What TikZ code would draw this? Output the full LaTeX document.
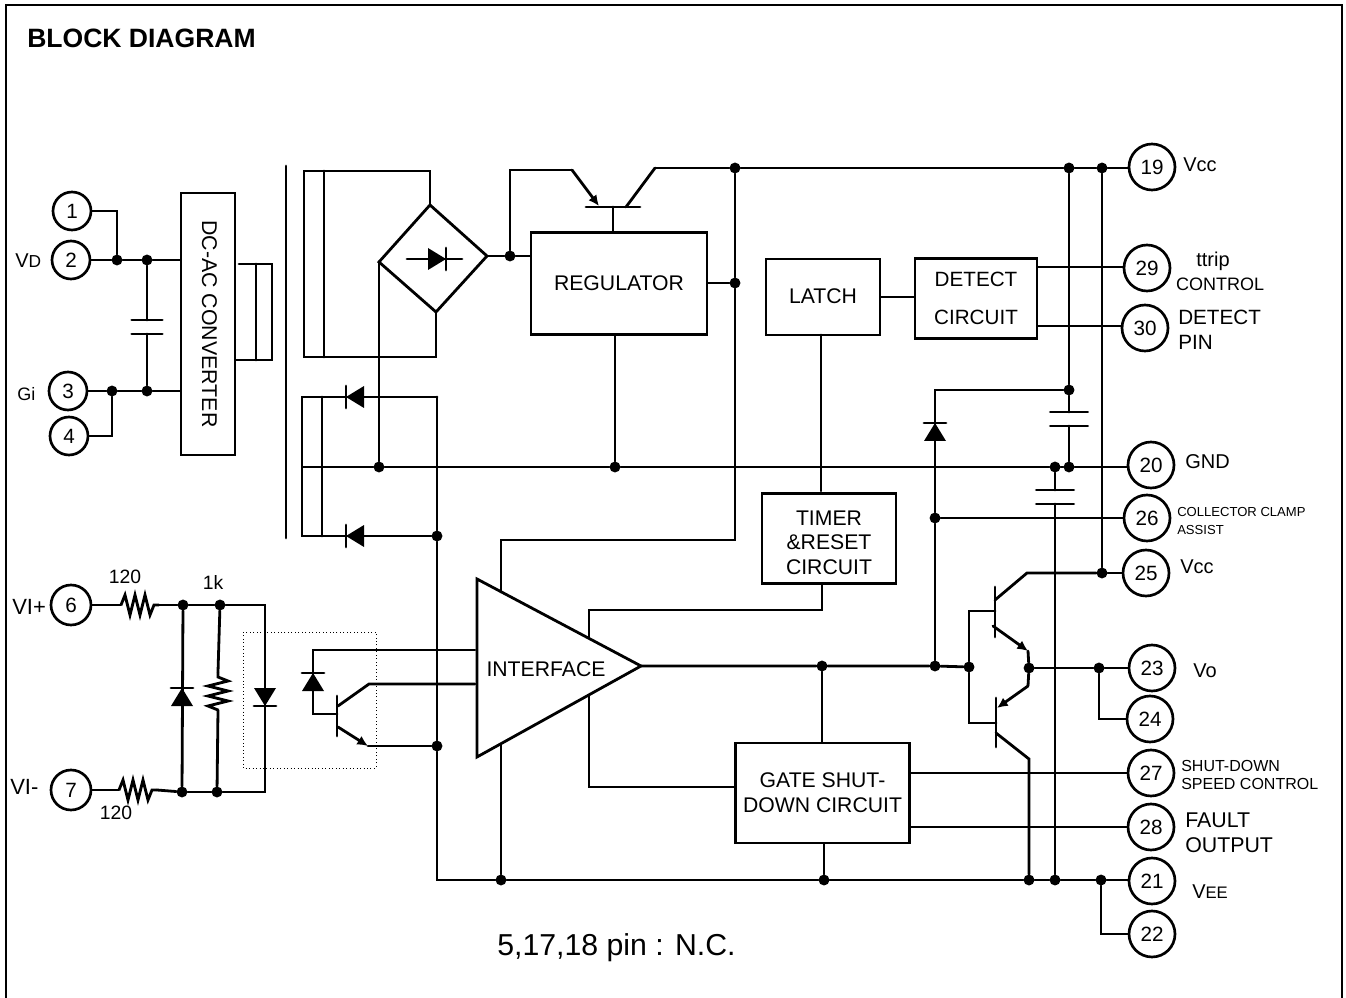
\documentclass[tikz,border=0pt]{standalone}
\usepackage{fontspec}
\setmainfont{Liberation Sans}
\usetikzlibrary{arrows.meta}
\tikzset{
  wire/.style={line width=2.1pt,line cap=round},
  box/.style={draw,line width=2.1pt,inner sep=0pt,align=center,font=\fontsize{15.9}{18.5}\selectfont},
  pin/.style={draw,circle,line width=2pt,inner sep=0pt,font=\fontsize{15.5}{18}\selectfont},
  dot/.style={circle,fill,inner sep=0pt,minimum size=8.2pt},
  lbl/.style={inner sep=0pt,align=left,font=\fontsize{15}{18.5}\selectfont},
  tiny/.style={lbl,font=\fontsize{9.8}{13}\selectfont},
  tail/.style={wire,-{Latex[length=8pt,width=7.5pt]}},
  diode/.pic={
    \fill (9,0) -- (-9,-11) -- (-9,11) -- cycle;
    \draw[wire] (9,-11) -- (9,11);
  },
  capa/.pic={
    \draw[wire] (-17,-7) -- (17,-7);
    \draw[wire] (-17,7) -- (17,7);
    \coordinate (-a) at (0,-7);
    \coordinate (-b) at (0,7);
  },
  resi/.pic={
    \draw[wire,line cap=butt] (-19,0) -- (-15,-10) -- (-10,10) -- (-5,-10) -- (0,10) -- (5,-10) -- (10,10) -- (14,0) -- (19,0);
    \coordinate (-a) at (-19,0);
    \coordinate (-b) at (19,0);
  }
}
\begin{document}
\begin{tikzpicture}[x=.75pt,y=-.75pt]
  \useasboundingbox (0,0) rectangle (1346,998);
  %outer frame
  \draw[line width=1.5pt] (6,999) -- (6,5) -- (1342,5) -- (1342,999);
  \node[lbl,anchor=west,font=\fontsize{19.9}{24}\selectfont\bfseries] (title) at (27,38) {BLOCK DIAGRAM};
  \node[lbl,anchor=west,font=\fontsize{22.7}{28}\selectfont] (note) at (497,948) {5,17,18 pin : N.C.};

  %pins
  \foreach \n/\x/\y/\s in {1/72/211/28.5,2/71/260/28.5,3/68/391/28.5,4/69/436/28.5,6/71/605/30,7/71/790/30,
    19/1152/167/34.5,29/1147/268/34.5,30/1145/328/34.5,20/1151/465/34.5,26/1147/518/34.5,25/1146/573/34.5,
    23/1152/668/34.5,24/1150/719/34.5,27/1151/773/34.5,28/1151/827/34.5,21/1152/881/34.5,22/1152/934/34.5}
    \node[pin,minimum size=\s pt] (pin\n) at (\x,\y) {\n};

  %junctions
  \foreach \n/\x/\y in {1/117/260,2/147/260,3/147/391,4/112/391,
    5/510/256,6/735/168,7/735/283,8/1069/168,9/1102/168,
    10/379/467,11/615/467,12/1055/467,13/1069/467,14/1069/390,
    15/437/536,16/437/746,17/935/518,18/935/666,19/969/667,20/1029/668,21/1099/668,22/1102/573,23/822/666,
    24/183/605,25/220/605,26/182/792,27/217/792,
    28/501/880,29/824/880,30/1029/880,31/1055/880,32/1101/880}
    \node[dot] (j\n) at (\x,\y) {};

  %blocks
  \node[box,rotate=-90,minimum width=196.5pt,minimum height=40.5pt,font=\fontsize{16}{18}\selectfont] (conv) at (208,324) {\raisebox{2.2pt}{DC-AC CONVERTER}};
  \node[box,minimum width=132pt,minimum height=77pt] (reg) at (619,283.5) {REGULATOR};
  \node[box,minimum width=85.5pt,minimum height=57pt] (latch) at (823,297) {\raisebox{1.5pt}{LATCH}};
  \node[box,minimum width=91.5pt,minimum height=59.5pt,font=\fontsize{15.5}{28}\selectfont] (det) at (976,298.5) {DETECT\\CIRCUIT};
  \node[box,minimum width=100.5pt,minimum height=68pt] (timer) at (829,538.5) {};
  \node[lbl,align=center,font=\fontsize{15.9}{18.5}\selectfont] (timertxt) at (829,542.5) {TIMER\\\&RESET\\CIRCUIT};
  \node[box,minimum width=131pt,minimum height=75pt] (gate) at (822.5,793) {GATE SHUT-\\DOWN CIRCUIT};

  %interface triangle
  \coordinate (tip) at (641,666);
  \draw[wire,line join=miter] (477,579) -- (tip) -- (477,757) -- cycle;
  \node[lbl,font=\fontsize{15.9}{18}\selectfont] (ifc) at (546,669) {INTERFACE};

  %input side
  \draw[wire] (pin1) -| (j1);
  \draw[wire] (pin2) -- (j1) -- (j2) -- (j2 -| conv.south);
  \draw[wire] (pin3) -- (j4) -- (j3) -- (j3 -| conv.south);
  \draw[wire] (pin4) -| (j4);
  \pic[xscale=.9] (capin) at (147,327) {capa};
  \draw[wire] (j2) -- (capin-a);
  \draw[wire] (capin-b) -- (j3);

  %transformer
  \coordinate (pri) at (239,264);
  \draw[wire] (pri) -| (272,360) -- (conv.north |- 0,360);
  \draw[wire] (256,264) -- (256,360);
  \draw[wire] (286,166) -- (286,538);

  %bridge
  \coordinate (brt) at (430,205);
  \coordinate (brr) at (487,256);
  \coordinate (brb) at (436,312);
  \coordinate (brl) at (379,262);
  \draw[wire,line join=miter] (brt) -- (brr) -- (brb) -- (brl) -- cycle;
  \draw[wire] (407,259) -- (462,259);
  \pic at (437,259) {diode};
  \draw[wire,line join=miter] (brt) |- (304,171) -- (304,357) -| (brb);
  \draw[wire] (324,171) -- (324,357);
  \draw[wire] (brl) -- (j10);

  %lower rectifiers
  \draw[wire,line join=miter] (437,397) -- (302,397) -- (302,536) -- (j15);
  \draw[wire] (322,397) -- (322,536);
  \pic[rotate=180] at (355,397) {diode};
  \pic[rotate=180] at (355,536) {diode};
  \draw[wire] (437,397) -- (j15) -- (j16);
  \draw[wire] (j16) -- (437,880) -- (j28);

  %ground rail and upper rail
  \draw[wire] (303,467) -- (j10) -- (j11) -- (j12) -- (j13) -- (pin20.west |- j13);
  \draw[wire] (j11) -- (reg.south -| j11);
  \coordinate (c1) at (655,168);
  \draw[wire] (c1) -- (j6) -- (j8) -- (j9) -- (pin19.west |- j9);
  \draw[wire] (j28) -- (j29) -- (j30) -- (j31) -- (j32) -- (pin21.west |- j32);
  \draw[wire,line join=miter] (j32) |- (pin22);

  %series transistor
  \draw[wire] (brr) -- (j5) -- (j5 -| reg.west);
  \coordinate (c2) at (572,170);
  \draw[wire,line join=miter] (j5) |- (c2);
  \draw[tail] (c2) -- (599,206);
  \draw[wire] (586,207) -- (640,207);
  \draw[wire] (613,207) -- (613,232);
  \draw[wire] (626,207) -- (c1);

  %regulator to interface
  \draw[wire] (j6) -- (j7);
  \draw[wire] (reg.east |- j7) -- (j7);
  \coordinate (c3) at (501,592);
  \draw[wire,line join=miter] (j7) |- (501,540) -- (c3);
  \coordinate (c4) at (501,744);
  \draw[wire] (c4) -- (j28);

  %latch and timer
  \draw[wire] (latch.east) -- (det.west |- latch.east);
  \draw[wire] (det.east |- 0,267) -- (pin29.west |- 0,267);
  \draw[wire] (det.east |- 0,326) -- (pin30.west |- 0,326);
  \draw[wire] (821,335) -- (821,491);
  \coordinate (c5) at (589,638);
  \draw[wire,line join=miter] (822,585) |- (589,610) -- (c5);
  \coordinate (c6) at (589,695);
  \draw[wire,line join=miter] (c6) |- (gate.west |- 0,787);

  %gate shut-down
  \draw[wire] (j23) -- (j23 |- gate.north);
  \draw[wire] (j29 |- gate.south) -- (j29);
  \draw[wire] (gate.east |- pin27) -- (pin27);
  \draw[wire] (gate.east |- pin28) -- (pin28);

  %output stage
  \draw[wire] (tip) -- (j23) -- (j18) -- (j19);
  \draw[wire] (j18) -- (j17);
  \draw[wire,line join=miter] (j17) -- (935,390) -- (j14);
  \pic[rotate=90] at (935,432) {diode};
  \draw[wire] (j17) -- (pin26);
  \draw[wire,line join=miter] (995,600) -- (1027,573) -- (j22);
  \draw[wire] (j22) -- (pin25);
  \draw[wire] (j9) -- (j22);
  \draw[wire] (995,587) -- (995,637);
  \draw[wire,line join=miter] (j19) |- (995,611);
  \draw[wire] (j19) |- (996,723);
  \draw[tail] (993,626) -- (1028,651);
  \draw[wire] (1028,651) -- (j20);
  \draw[wire] (j20) -- (1028,686);
  \draw[tail] (1028,686) -- (997,708);
  \draw[wire] (996,698) -- (996,747);
  \draw[wire,line join=miter] (996,733) -- (1029,759) -- (j30);
  \draw[wire] (j20) -- (j21) -- (pin23);
  \draw[wire,line join=miter] (j21) |- (pin24);

  %clamp capacitors
  \draw[wire] (j8) -- (j14);
  \pic[xscale=1.1] (capb) at (1069,419) {capa};
  \draw[wire] (j14) -- (capb-a);
  \draw[wire] (capb-b) -- (j13);
  \pic[xscale=1.1] (capc) at (1055,497) {capa};
  \draw[wire] (j12) -- (capc-a);
  \draw[wire] (capc-b) -- (j31);

  %opto input
  \pic (r1) at (140,605) {resi};
  \pic (r2) at (138,790) {resi};
  \pic[rotate=90] (r3) at (218,691) {resi};
  \draw[wire] (pin6) -- (r1-a);
  \draw[wire] (r1-b) -- (j24);
  \draw[wire] (pin7) -- (r2-a);
  \draw[wire] (r2-b) -- (j26);
  \draw[wire] (j24) -- (j25) -- (265,605) -- (265,792) -- (j27) -- (j26);
  \draw[wire] (j24) -- (j26);
  \draw[wire] (j25) -- (r3-b);
  \draw[wire] (r3-a) -- (j27);
  \pic[rotate=90] at (182,697) {diode};
  \pic[rotate=-90] at (265,697) {diode};
  \draw[line width=.6pt,dotted] (243,632) rectangle (376,768);

  %opto output
  \coordinate (c7) at (475,650);
  \draw[wire,line join=miter] (c7) -| (313,714) -- (337,714);
  \pic[rotate=90] at (313,682) {diode};
  \draw[wire] (337,696) -- (337,736);
  \coordinate (c8) at (475,684);
  \draw[wire,line join=miter] (338,706) -- (369,684) -- (c8);
  \draw[tail] (338,727) -- (368,746);
  \draw[wire] (368,746) -- (j16);

  %labels
  \node[lbl,anchor=west] (lvd) at (15,261) {V{\fontsize{13}{15}\selectfont D}};
  \node[lbl,anchor=west,font=\fontsize{13.5}{15}\selectfont] (lgi) at (17,394) {Gi};
  \node[lbl,anchor=west,font=\fontsize{16.5}{20}\selectfont] (lvip) at (12,607) {VI+};
  \node[lbl,anchor=west,font=\fontsize{16.5}{20}\selectfont] (lvim) at (10,787) {VI-};
  \node[lbl,font=\fontsize{14.5}{16}\selectfont] (lr1) at (125,577) {120};
  \node[lbl,font=\fontsize{14.5}{16}\selectfont] (lr2) at (116,813) {120};
  \node[lbl,font=\fontsize{14.5}{16}\selectfont] (lr3) at (213,582) {1k};
  \node[lbl,anchor=west] (l19) at (1183,165) {Vcc};
  \node[lbl] (l29a) at (1213,261) {ttrip};
  \node[lbl,font=\fontsize{13.5}{16}\selectfont] (l29b) at (1220,284) {CONTROL};
  \node[lbl,anchor=west,font=\fontsize{15.5}{18.5}\selectfont] (l30) at (1178,330) {DETECT\\PIN};
  \node[lbl,anchor=west] (l20) at (1185,462) {GND};
  \node[tiny,anchor=west] (l26) at (1177,521) {COLLECTOR CLAMP\\ASSIST};
  \node[lbl,anchor=west] (l25) at (1180,567) {Vcc};
  \node[lbl,anchor=west] (l23) at (1193,671) {Vo};
  \node[tiny,anchor=west,font=\fontsize{12}{13.5}\selectfont] (l27) at (1181,775) {SHUT-DOWN\\SPEED CONTROL};
  \node[lbl,anchor=west,font=\fontsize{16}{19}\selectfont] (l28) at (1185,833) {FAULT\\OUTPUT};
  \node[lbl,anchor=west] (l21) at (1192,892) {V{\fontsize{12.5}{15}\selectfont EE}};
\end{tikzpicture}
\end{document}
